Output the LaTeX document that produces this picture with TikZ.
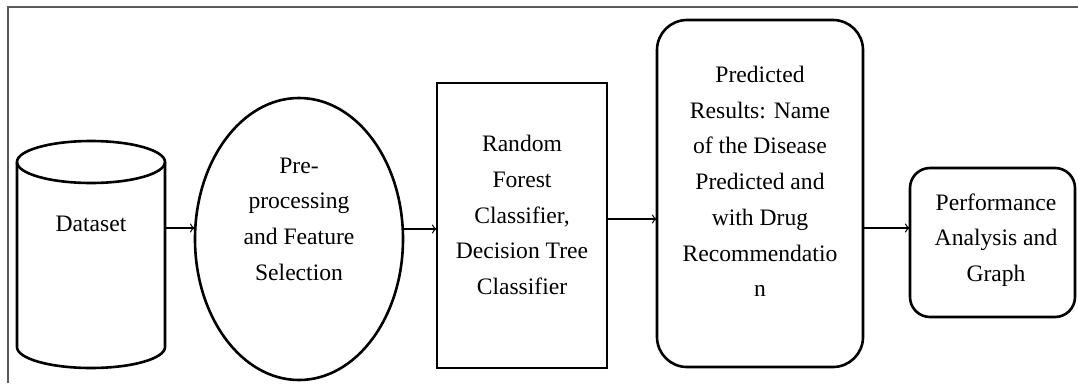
\documentclass[tikz,border=0pt]{standalone}
\usepackage{fontspec}
\setmainfont{Liberation Serif}
\usetikzlibrary{shapes.geometric,arrows.meta}
\begin{document}
\begin{tikzpicture}[x=1pt,y=-1pt,
  shapeline/.style={line width=2.6pt,black},
  txt/.style={font=\fontsize{23.6}{35.7}\selectfont,align=center,inner sep=0pt},
  conn/.style={line width=1.1pt,-{To[length=5pt,width=9pt,line width=1pt]}},
  ]
\useasboundingbox (0,0) rectangle (1078,383);
\fill[white] (0,0) rectangle (1078,383);
% frame
\draw[gray!70!black,line width=1.6pt] (8,383) -- (8,7) -- (1078,7);
% cylinder
\draw[shapeline] (17,162) -- (17,347) arc[start angle=180,end angle=0,x radius=74,y radius=21] -- (165,162);
\draw[shapeline] (91,162) ellipse[x radius=74,y radius=21];
\node[inner sep=0pt,minimum width=148,minimum height=230] (ds) at (91,255) {};
\node[txt] (dst) at (91,224) {Dataset};
% ellipse
\node[shapeline,draw,ellipse,minimum width=208,minimum height=282,inner sep=0pt,outer sep=0pt] (pre) at (299,239) {};
\node[txt] (pret) at (299,219) {Pre-\\processing\\and Feature\\Selection};
% rectangle
\node[shapeline,draw,rectangle,minimum width=170,minimum height=285,inner sep=0pt,outer sep=0pt] (rf) at (522,225.5) {};
\node[txt] (rft) at (522,215) {Random\\Forest\\Classifier,\\Decision Tree\\Classifier};
% rounded rect 1
\node[shapeline,draw,rectangle,rounded corners=30pt,minimum width=206,minimum height=347,inner sep=0pt,outer sep=0pt] (pr) at (760,193.5) {};
\node[txt] (prt) at (760,181.5) {Predicted\\Results: Name\\of the Disease\\Predicted and\\with Drug\\Recommendatio\\n};
% rounded rect 2
\node[shapeline,draw,rectangle,rounded corners=20pt,minimum width=165,minimum height=149,inner sep=0pt,outer sep=0pt] (pa) at (992.5,242.5) {};
\node[txt] (pat) at (996,240) {Performance\\Analysis and\\Graph};
% connectors
\draw[conn] (ds.east |- 0,228) -- (pre.west |- 0,228);
\draw[conn] (pre.east |- 0,229) -- (rf.west |- 0,229);
\draw[conn] (rf.east |- 0,219) -- (pr.west |- 0,219);
\draw[conn] (pr.east |- 0,228) -- (pa.west |- 0,228);
\end{tikzpicture}
\end{document}
